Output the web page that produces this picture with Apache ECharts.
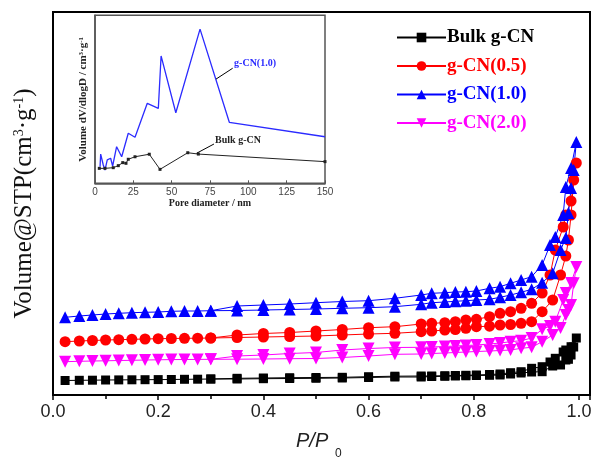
<!DOCTYPE html>
<html><head><meta charset="utf-8">
<script src="https://cdn.jsdelivr.net/npm/echarts@6/dist/echarts.min.js"></script>
<style>html,body{margin:0;padding:0;background:#fff}#c{width:595px;height:458px}</style>
</head><body><div id="c"></div>
<script>
// Relative pressure P/P0: adsorption branch then desorption branch
const pAds = [0.023,0.05,0.075,0.10,0.125,0.15,0.175,0.20,0.225,0.25,0.275,0.30,0.35,0.40,0.45,0.50,0.55,0.60,0.65,0.70,0.72,0.745,0.765,0.785,0.805,0.83,0.85,0.87,0.89,0.91,0.93,0.95,0.965,0.975,0.98,0.985,0.99,0.995];
const pDes = [0.985,0.975,0.97,0.955,0.945,0.93,0.91,0.89,0.87,0.85,0.83,0.805,0.785,0.765,0.745,0.72,0.70,0.65,0.60,0.55,0.50,0.45,0.40,0.35,0.30];

const bulkAds = [14.5,14.7,14.8,15,15.1,15.2,15.3,15.4,15.5,15.7,15.8,16,16,16.3,16.5,16.7,17,17.5,18,18,18.5,18.7,19,19.2,19.5,19.7,20,21,22,23,23.3,29,30,35,35.7,40,48,57];
const bulkDes = [48.3,45,43,36.7,33,28.3,26.7,23.3,22.3,21,20.5,20,19.7,19.5,19.3,19,19,18.8,18.3,17.7,17.5,17.3,17,16.7,16];
const cn05Ads = [53.3,54,54.5,55,55.3,55.7,56,56.3,56.5,56.7,56.8,57,57.5,58,58.5,59,60,61,61.7,63.3,64,65,65.5,66.7,68.3,68.8,70,70.5,71.7,73.3,83.3,95,120,139,155,180,215,232];
const cn05Des = [194,180,168,145,120,102,91.7,86.7,83.3,81.7,78.3,75.7,75,73.3,72.3,71.7,71,68.3,67.3,65.5,64,62.5,61.5,60,57];
const cn10Ads = [77.7,79,80,81,81.7,82.3,82.7,83,83.7,84,84,84.3,84.5,85,85.5,86,86.7,87.3,88.3,90.7,92.3,93,93.7,94.3,95,95.7,97.7,100,102.7,105.7,112.3,121.7,145,157,182,207,225,253];
const cn10Des = [227,208,180,158,150,130,118.3,115,111.7,108.3,106.7,104,103.3,103,102.3,101.7,100,96.7,94.3,93.5,92.3,91,90,89,84.3];
const cn20Ads = [33.3,33.7,34,34.2,34.5,34.7,35,35.2,35.4,35.5,35.6,35.7,35.8,36,36.3,36.5,37.5,39,40.7,41,41.5,42,42.5,43,43.5,44,44.5,45,46.7,47.7,53.3,60,67,80,85,90,111.7,128];
const cn20Des = [112,102,95,73.3,69,65.7,57,54.3,53.3,52,51,50,49.5,49,48.5,48,47.7,47.5,46.5,45,42.5,41.5,40,39,35.7];

// Inset: pore size distribution
const poreBulkX = [2.8,6.5,11.9,15.2,18.1,20.2,21.7,26.1,35.4,42.4,60.5,67.4,150];
const poreBulkY = [8.9,8.9,9.3,10.5,12.3,11.9,14.3,15.8,17.3,8.3,18.2,17.4,12.9];
const pore10X = [3.3,3.7,5.4,6.5,8.0,10.2,11.5,14.1,17.4,21.7,26.1,34.1,41.3,43.1,52.7,68.5,87.6,150];
const pore10Y = [9.9,17.4,10.9,7.9,13.9,14.9,10.3,21.8,15.8,29.8,27.4,47.6,44.6,75.8,42.0,91.8,36.3,27.7];

const names = ['Bulk g-CN','g-CN(0.5)','g-CN(1.0)','g-CN(2.0)'];
const colors = ['#000000','#ff0000','#0000ff','#ff00ff'];

function loop(a, d){ return pAds.map((x,i)=>[x,a[i]]).concat(pDes.map((x,i)=>[x,d[i]])); }
function pairs(xs, ys){ return xs.map((x,i)=>[x,ys[i]]); }

const serif = 'Liberation Serif, Times New Roman, serif';
const sans = 'Liberation Sans, Arial, sans-serif';

const chart = echarts.init(document.getElementById('c'), null, {renderer:'canvas'});
const mainSeries = [
  {name:names[0], data:loop(bulkAds,bulkDes), symbol:'rect', symbolSize:9},
  {name:names[1], data:loop(cn05Ads,cn05Des), symbol:'circle', symbolSize:11},
  {name:names[2], data:loop(cn10Ads,cn10Des), symbol:'triangle', symbolSize:12},
  {name:names[3], data:loop(cn20Ads,cn20Des), symbol:'triangle', symbolSize:12, symbolRotate:180}
].map((s,i)=>Object.assign({type:'line', xAxisIndex:0, yAxisIndex:0, color:colors[i],
  lineStyle:{width:1, color:colors[i]}, itemStyle:{color:colors[i]}, showSymbol:true, animation:false}, s));

chart.setOption({
  animation:false,
  backgroundColor:'#fff',
  grid:[
    {left:53, top:12, width:537, height:383, show:true, borderColor:'#000', borderWidth:2},
    {left:95, top:15.3, width:230, height:168, show:true, borderColor:'#555', borderWidth:1.5, backgroundColor:'rgba(0,0,0,0)'}
  ],
  xAxis:[
    {type:'value', gridIndex:0, min:0, max:1.021, interval:0.2,
     axisLine:{lineStyle:{color:'#000', width:2}},
     axisTick:{show:true, inside:false, length:5, lineStyle:{color:'#000', width:1.5}},
     minorTick:{show:true, splitNumber:2, length:4, lineStyle:{color:'#000', width:1.5}},
     splitLine:{show:false},
     axisLabel:{fontFamily:sans, fontSize:18, color:'#222', margin:8, showMaxLabel:false,
       formatter:v=>v.toFixed(1)}},
    {type:'value', gridIndex:1, min:0, max:150, interval:25,
     axisLine:{lineStyle:{color:'#555', width:1.5}},
     axisTick:{show:true, inside:true, length:3, lineStyle:{color:'#555'}},
     splitLine:{show:false},
     axisLabel:{fontFamily:sans, fontSize:10, color:'#444', margin:4},
     name:'Pore diameter / nm', nameLocation:'middle', nameGap:15,
     nameTextStyle:{fontFamily:serif, fontSize:10, fontWeight:'bold', color:'#222'}}
  ],
  yAxis:[
    {type:'value', gridIndex:0, min:0, max:383,
     axisLine:{lineStyle:{color:'#000', width:2}}, axisTick:{show:false}, axisLabel:{show:false}, splitLine:{show:false},
     name:'Volume@STP(cm{sup|3}·g{sup|-1})', nameLocation:'middle', nameRotate:90, nameGap:16,
     nameTextStyle:{fontFamily:serif, fontSize:25, color:'#111',
       rich:{sup:{fontFamily:serif, fontSize:14, color:'#111', verticalAlign:'top'}}}},
    {type:'value', gridIndex:1, min:0, max:100,
     axisLine:{lineStyle:{color:'#555', width:1.5}}, axisTick:{show:false}, axisLabel:{show:false}, splitLine:{show:false},
     name:'Volume dV/dlogD / cm{sup|3}·g{sup|-1}', nameLocation:'middle', nameRotate:90, nameGap:6,
     nameTextStyle:{fontFamily:serif, fontSize:11, fontWeight:'bold', color:'#222',
       rich:{sup:{fontFamily:serif, fontSize:7, fontWeight:'bold', color:'#222', verticalAlign:'top'}}}}
  ],
  legend:{
    left:391, top:23, orient:'vertical', itemWidth:49, itemHeight:12, itemGap:9.5,
    data:names.map((n,i)=>({name:n, textStyle:{color:colors[i]}})),
    textStyle:{fontFamily:serif, fontSize:19, fontWeight:'bold', padding:[0,0,0,-4]}
  },
  series: mainSeries.concat([
    {type:'line', name:'inset-bulk', xAxisIndex:1, yAxisIndex:1, data:pairs(poreBulkX,poreBulkY),
     symbol:'rect', symbolSize:3, lineStyle:{color:'#222', width:1}, itemStyle:{color:'#222'}, animation:false,
     markLine:{silent:true, symbol:'none', label:{show:false}, lineStyle:{color:'#000', width:1, type:'solid'},
       data:[[{coord:[66.3,17.9]},{coord:[77.6,23.4]}]]}},
    {type:'line', name:'inset-10', xAxisIndex:1, yAxisIndex:1, data:pairs(pore10X,pore10Y),
     showSymbol:false, symbol:'none', lineStyle:{color:'#2b2bff', width:1.3}, animation:false,
     markLine:{silent:true, symbol:'none', label:{show:false}, lineStyle:{color:'#000', width:1, type:'solid'},
       data:[[{coord:[78.9,62.0]},{coord:[89.8,68.5]}]]}}
  ])
});

// inset annotations and x-axis title
const pB = chart.convertToPixel({xAxisIndex:1, yAxisIndex:1}, [78.3, 25.8]);
const p10 = chart.convertToPixel({xAxisIndex:1, yAxisIndex:1}, [90.7, 71.6]);
chart.setOption({
  graphic:[
    {type:'text', x:pB[0], y:pB[1], style:{text:'Bulk g-CN', font:'bold 10px '+serif, fill:'#222', textVerticalAlign:'middle'}},
    {type:'text', x:p10[0], y:p10[1], style:{text:'g-CN(1.0)', font:'bold 10px '+serif, fill:'#2b2bff', textVerticalAlign:'middle'}},
    {type:'text', x:296, y:441, style:{text:'P/P', font:'italic 20px '+sans, fill:'#222', textVerticalAlign:'middle'}},
    {type:'text', x:335, y:454, style:{text:'0', font:'12px '+sans, fill:'#222', textVerticalAlign:'middle'}}
  ]
});
</script></body></html>
